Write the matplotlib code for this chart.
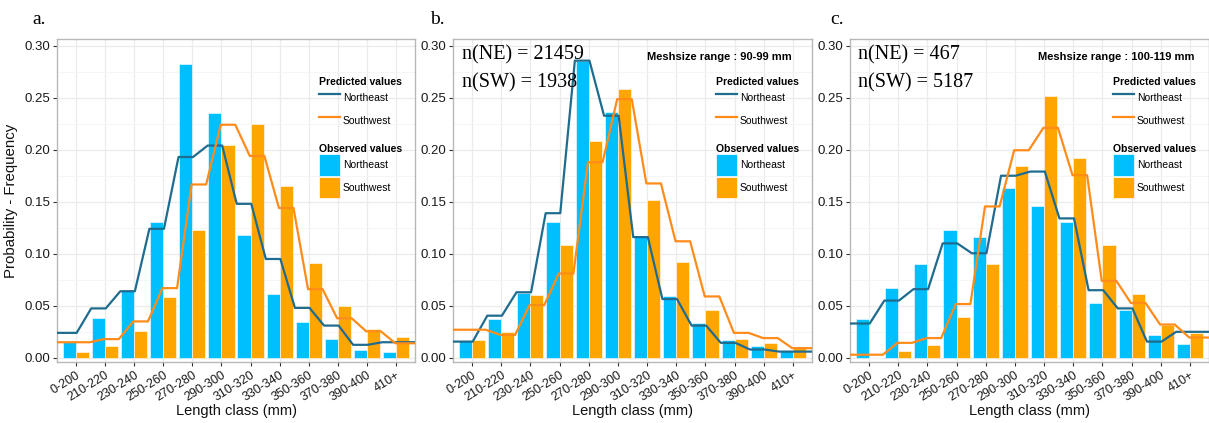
import matplotlib
matplotlib.use('Agg')
import matplotlib.pyplot as plt
from matplotlib.lines import Line2D
from matplotlib.patches import Patch
from matplotlib.ticker import MultipleLocator
import numpy as np

plt.rcParams['font.family'] = ['Liberation Sans', 'DejaVu Sans']

categories = ['0-200', '210-220', '230-240', '250-260', '270-280', '290-300',
              '310-320', '330-340', '350-360', '370-380', '390-400', '410+']

# Panel a (all)
obs_ne_a = [0.015, 0.038, 0.064, 0.131, 0.282, 0.235, 0.118, 0.061, 0.034, 0.018, 0.008, 0.006]
obs_sw_a = [0.006, 0.0115, 0.0255, 0.058, 0.123, 0.205, 0.225, 0.165, 0.091, 0.050, 0.0275, 0.020]
pred_ne_a = [0.024, 0.0475, 0.064, 0.124, 0.193, 0.204, 0.148, 0.095, 0.048, 0.031, 0.0125, 0.015]
pred_sw_a = [0.015, 0.018, 0.035, 0.067, 0.1666, 0.224, 0.194, 0.144, 0.066, 0.038, 0.0255, 0.014]

# Panel b (90-99 mm)
obs_ne_b = [0.016, 0.0377, 0.0626, 0.131, 0.285, 0.236, 0.1175, 0.059, 0.0335, 0.017, 0.011, 0.007]
obs_sw_b = [0.017, 0.025, 0.060, 0.108, 0.208, 0.258, 0.152, 0.0925, 0.046, 0.018, 0.014, 0.009]
pred_ne_b = [0.0156, 0.0405, 0.063, 0.139, 0.2856, 0.2327, 0.116, 0.0565, 0.031, 0.0144, 0.008, 0.006]
pred_sw_b = [0.027, 0.022, 0.0507, 0.081, 0.188, 0.2486, 0.1676, 0.112, 0.059, 0.024, 0.019, 0.0093]

# Panel c (100-119 mm)
obs_ne_c = [0.037, 0.067, 0.0906, 0.1225, 0.1165, 0.1634, 0.146, 0.131, 0.0523, 0.046, 0.022, 0.0134]
obs_sw_c = [0.0, 0.0067, 0.0128, 0.039, 0.0906, 0.1848, 0.252, 0.1925, 0.108, 0.061, 0.032, 0.0236]
pred_ne_c = [0.033, 0.055, 0.066, 0.110, 0.1005, 0.175, 0.179, 0.134, 0.065, 0.0475, 0.0156, 0.025]
pred_sw_c = [0.003, 0.0144, 0.019, 0.0517, 0.1455, 0.1995, 0.221, 0.1755, 0.074, 0.0527, 0.032, 0.0195]

panel_letters = ['a.', 'b.', 'c.']
n_texts = [None, ('n(NE) = 21459', 'n(SW) = 1938'), ('n(NE) = 467', 'n(SW) = 5187')]
mesh_texts = [None, 'Meshsize range : 90-99 mm', 'Meshsize range : 100-119 mm']

C_NE_BAR = '#00BFFF'
C_SW_BAR = '#FFA500'
C_NE_LINE = '#1F6C8E'
C_SW_LINE = '#FF8C1A'

W, H = 1209, 423
fig = plt.figure(figsize=(W / 100, H / 100), dpi=100)

panels = [
    (57, 415, obs_ne_a, obs_sw_a, pred_ne_a, pred_sw_a, 32, None, None),
    (453, 812, obs_ne_b, obs_sw_b, pred_ne_b, pred_sw_b, 430, 0.025, 0.944),
    (850, 1209, obs_ne_c, obs_sw_c, pred_ne_c, pred_sw_c, 830, 0.022, 0.961),
]
top_px, bot_px = 39, 362


def step_line(vals, offset):
    n = len(vals)
    xs, ys = [], []
    for i, v in enumerate(vals):
        c = i + offset
        x0 = c - 0.25 if i > 0 else -2
        x1 = c + 0.25 if i < n - 1 else n + 1
        xs += [x0, x1]
        ys += [v, v]
    return xs, ys


for k, (lpx, rpx, one, osw, pne, psw, letter_x, ntx, mtx) in enumerate(panels):
    ax = fig.add_axes([lpx / W, 1 - bot_px / H, (rpx - lpx) / W, (bot_px - top_px) / H])
    x = np.arange(len(categories))
    bw = 0.45
    ax.bar(x - bw / 2, one, width=bw, color=C_NE_BAR, edgecolor='white', linewidth=0.4, zorder=2)
    ax.bar(x + bw / 2, osw, width=bw, color=C_SW_BAR, edgecolor='white', linewidth=0.4, zorder=2)
    xs, ys = step_line(pne, -0.225)
    ax.plot(xs, ys, color=C_NE_LINE, lw=1.6, zorder=3)
    xs, ys = step_line(psw, 0.225)
    ax.plot(xs, ys, color=C_SW_LINE, lw=1.6, zorder=3)

    ax.set_xlim(-0.65, len(categories) - 0.35)
    ax.set_ylim(-0.004, 0.3064)
    ax.yaxis.set_minor_locator(MultipleLocator(0.025))
    ax.set_yticks(np.arange(0, 0.31, 0.05))
    ax.set_yticklabels(['%.2f' % v for v in np.arange(0, 0.31, 0.05)])
    ax.set_xticks(x)
    ax.set_xticklabels(categories, rotation=32, ha='right', rotation_mode='anchor')
    ax.tick_params(axis='x', labelsize=9, colors='#333333', length=3, pad=2,
                   labelcolor='#1a1a1a')
    ax.tick_params(axis='y', labelsize=9.5, colors='#333333', length=3, pad=2,
                   labelcolor='#1a1a1a')
    ax.tick_params(axis='y', which='minor', length=0)
    ax.grid(True, which='major', color='#EBEBEB', lw=0.9, zorder=0)
    ax.grid(True, which='minor', axis='y', color='#F4F4F4', lw=0.6, zorder=0)
    ax.set_axisbelow(True)
    for s in ax.spines.values():
        s.set_color('#B8B8B8')
        s.set_linewidth(1.0)

    ax.text(0.5, -0.152, 'Length class (mm)', transform=ax.transAxes, ha='center',
            va='center', fontsize=10.5, color='#111111')
    if k == 0:
        ax.set_ylabel('Probability - Frequency', fontsize=10.8, color='#111111')
        ax.yaxis.set_label_coords((18 - lpx) / (rpx - lpx), 0.5)

    fig.text(letter_x / W, 1 - 20 / H, panel_letters[k], family='Liberation Serif',
             fontsize=14, va='center', ha='left')

    if ntx is not None:
        ax.text(ntx, 0.950, n_texts[k][0], transform=ax.transAxes, family='Liberation Serif',
                fontsize=14.5, va='center', ha='left', zorder=5)
        ax.text(ntx, 0.864, n_texts[k][1], transform=ax.transAxes, family='Liberation Serif',
                fontsize=14.5, va='center', ha='left', zorder=5)
        ax.text(mtx, 0.944, mesh_texts[k], transform=ax.transAxes, fontsize=8,
                fontweight='bold', va='center', ha='right', zorder=5)

    common = dict(loc='upper left', frameon=False, fontsize=7.5,
                  title_fontproperties={'weight': 'bold', 'size': 7.5},
                  handlelength=2.0, handleheight=2.85, labelspacing=0.05,
                  borderpad=0, borderaxespad=0, handletextpad=0.3, alignment='left')
    h1 = [Line2D([], [], color=C_NE_LINE, lw=1.6), Line2D([], [], color=C_SW_LINE, lw=1.6)]
    leg1 = ax.legend(h1, ['Northeast', 'Southwest'], title='Predicted values',
                     bbox_to_anchor=(0.732, 0.883), **common)
    ax.add_artist(leg1)
    h2 = [Patch(facecolor=C_NE_BAR, edgecolor='white', lw=0.5),
          Patch(facecolor=C_SW_BAR, edgecolor='white', lw=0.5)]
    ax.legend(h2, ['Northeast', 'Southwest'], title='Observed values',
              bbox_to_anchor=(0.732, 0.676), **common)

fig.savefig('out.png', dpi=100)
